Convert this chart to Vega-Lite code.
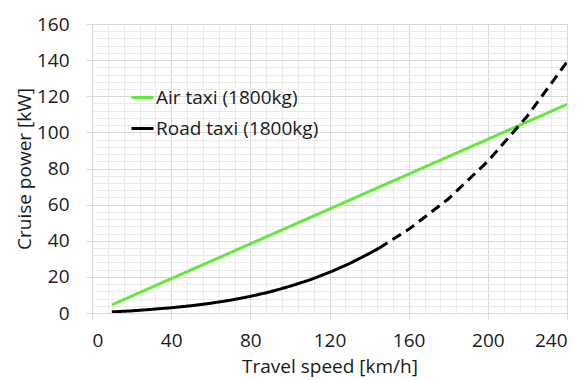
{
  "$schema": "https://vega.github.io/schema/vega-lite/v6.json",
  "width": 475,
  "height": 289,
  "autosize": {"type": "none"},
  "padding": {"left": 92, "top": 24, "right": 17, "bottom": 67},
  "background": "white",
  "config": {
    "view": {"stroke": null},
    "font": "Open Sans",
    "axis": {"labelFont": "Open Sans", "titleFont": "Open Sans", "labelColor": "#1a1a1a", "titleColor": "#1a1a1a", "titleFontWeight": "normal"}
  },
  "data": {"values": [
    {"speed": 10, "power": 4.5, "series": "Air taxi (1800kg)", "seg": "solid"},
    {"speed": 240, "power": 115.5, "series": "Air taxi (1800kg)", "seg": "solid"},
    {"speed": 10, "power": 0.6, "series": "Road taxi (1800kg)", "seg": "solid"},
    {"speed": 20, "power": 1.2, "series": "Road taxi (1800kg)", "seg": "solid"},
    {"speed": 30, "power": 2.0, "series": "Road taxi (1800kg)", "seg": "solid"},
    {"speed": 40, "power": 2.9, "series": "Road taxi (1800kg)", "seg": "solid"},
    {"speed": 50, "power": 4.0, "series": "Road taxi (1800kg)", "seg": "solid"},
    {"speed": 60, "power": 5.4, "series": "Road taxi (1800kg)", "seg": "solid"},
    {"speed": 70, "power": 7.1, "series": "Road taxi (1800kg)", "seg": "solid"},
    {"speed": 80, "power": 9.2, "series": "Road taxi (1800kg)", "seg": "solid"},
    {"speed": 90, "power": 11.7, "series": "Road taxi (1800kg)", "seg": "solid"},
    {"speed": 100, "power": 14.8, "series": "Road taxi (1800kg)", "seg": "solid"},
    {"speed": 110, "power": 18.3, "series": "Road taxi (1800kg)", "seg": "solid"},
    {"speed": 120, "power": 22.5, "series": "Road taxi (1800kg)", "seg": "solid"},
    {"speed": 130, "power": 27.3, "series": "Road taxi (1800kg)", "seg": "solid"},
    {"speed": 140, "power": 32.9, "series": "Road taxi (1800kg)", "seg": "solid"},
    {"speed": 145, "power": 35.9, "series": "Road taxi (1800kg)", "seg": "solid"},
    {"speed": 145, "power": 35.9, "series": "Road taxi (1800kg)", "seg": "dashed"},
    {"speed": 160, "power": 46.3, "series": "Road taxi (1800kg)", "seg": "dashed"},
    {"speed": 180, "power": 63.1, "series": "Road taxi (1800kg)", "seg": "dashed"},
    {"speed": 200, "power": 84.0, "series": "Road taxi (1800kg)", "seg": "dashed"},
    {"speed": 220, "power": 109.1, "series": "Road taxi (1800kg)", "seg": "dashed"},
    {"speed": 240, "power": 139.0, "series": "Road taxi (1800kg)", "seg": "dashed"}
  ]},
  "resolve": {"axis": {"x": "independent", "y": "independent"}},
  "layer": [
    {
      "mark": {"type": "line", "strokeOpacity": 0},
      "encoding": {
        "x": {"field": "speed", "type": "quantitative", "scale": {"domain": [0, 240], "nice": false},
          "axis": {"orient": "top", "values": [8,16,24,32,48,56,64,72,88,96,104,112,128,136,144,152,168,176,184,192,208,216,224,232], "grid": true, "gridColor": "#ebebeb", "gridWidth": 1, "labels": false, "ticks": false, "domain": false, "title": null}},
        "y": {"field": "power", "type": "quantitative", "scale": {"domain": [0, 160], "nice": false},
          "axis": {"orient": "right", "values": [4,8,12,16,24,28,32,36,44,48,52,56,64,68,72,76,84,88,92,96,104,108,112,116,124,128,132,136,144,148,152,156], "grid": true, "gridColor": "#ebebeb", "gridWidth": 1, "labels": false, "ticks": false, "domain": false, "title": null}},
        "detail": {"field": "series"}
      }
    },
    {
      "mark": {"type": "line", "strokeOpacity": 0},
      "encoding": {
        "x": {"field": "speed", "type": "quantitative", "scale": {"domain": [0, 240], "nice": false},
          "axis": {"values": [0,40,80,120,160,200,240], "grid": true, "gridColor": "#d9d9d9", "gridWidth": 1, "tickColor": "#d9d9d9", "tickSize": 6, "domain": true, "domainColor": "#d9d9d9", "labelFontSize": 19, "labelPadding": 12, "title": "Travel speed [km/h]", "titleFontSize": 19, "titlePadding": 7}},
        "y": {"field": "power", "type": "quantitative", "scale": {"domain": [0, 160], "nice": false},
          "axis": {"values": [0,20,40,60,80,100,120,140,160], "grid": true, "gridColor": "#d9d9d9", "gridWidth": 1, "tickColor": "#d9d9d9", "tickSize": 6, "domain": true, "domainColor": "#d9d9d9", "labelFontSize": 19, "labelPadding": 17, "title": "Cruise power [kW]", "titleFontSize": 19, "titlePadding": 2}},
        "detail": {"field": "series"}
      }
    },
    {
      "mark": {"type": "line", "strokeWidth": 3, "clip": true},
      "encoding": {
        "x": {"field": "speed", "type": "quantitative", "axis": null},
        "y": {"field": "power", "type": "quantitative", "axis": null},
        "color": {"field": "series", "type": "nominal",
          "scale": {"domain": ["Air taxi (1800kg)", "Road taxi (1800kg)"], "range": ["#64e83c", "#000000"]},
          "legend": {"title": null, "orient": "none", "legendX": 38, "legendY": 61, "padding": 0, "symbolType": "stroke", "symbolSize": 484, "symbolStrokeWidth": 3, "labelFontSize": 19, "labelFont": "Open Sans", "labelColor": "#1a1a1a", "labelOffset": 1, "labelLimit": 400, "rowPadding": 8}},
        "strokeDash": {"field": "seg", "type": "nominal", "scale": {"domain": ["solid", "dashed"], "range": [[1, 0], [10, 6]]}, "legend": null}
      }
    }
  ]
}
